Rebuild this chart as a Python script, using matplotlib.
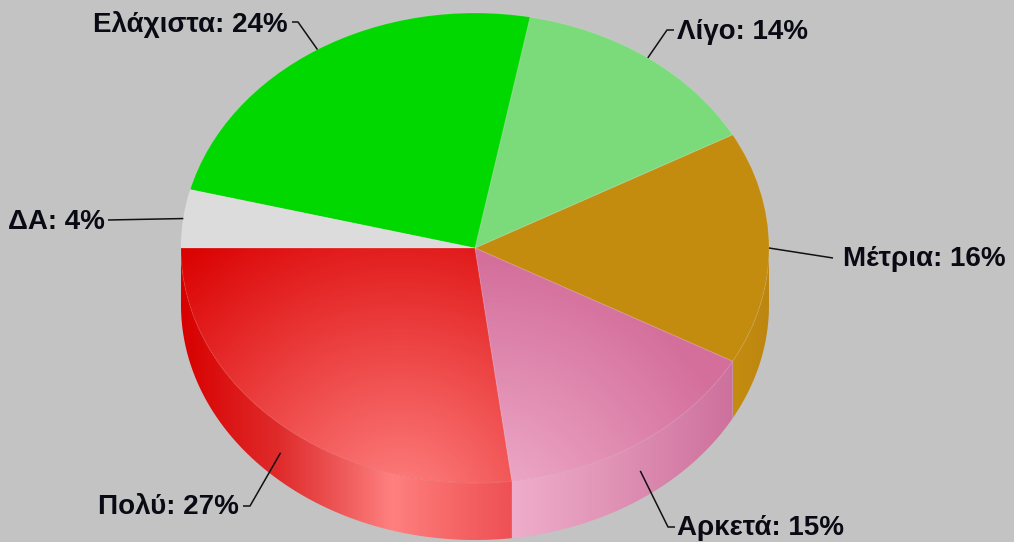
import numpy as np
import matplotlib
matplotlib.use("Agg")
import matplotlib.pyplot as plt
from matplotlib.colors import LinearSegmentedColormap as LSC
from matplotlib.patches import Wedge

categories = ["Πολύ", "Αρκετά", "Μέτρια", "Λίγο", "Ελάχιστα", "ΔΑ"]
values = [27, 15, 16, 14, 24, 4]
colors = ["#e81c1c", "#dd80a8", "#c48c0e", "#7bdb7b", "#00d800", "#dcdcdc"]

W, H = 1014, 542
CX, CY, RX, RY, DEPTH = 475, 248, 294, 235, 57
BG = "#c3c3c3"

def px(x, y):
    return (x - CX) / RX, (CY - y) / RY

fig = plt.figure(figsize=(W / 100, H / 100), dpi=100, facecolor=BG)
ax = fig.add_axes([0, 0, 1, 1])
wedges, _ = ax.pie(values, colors=colors, startangle=180, radius=1, center=(0, 0),
                   wedgeprops=dict(linewidth=0))
ax.set_aspect("auto")
ax.axis("off")
xl = ((0 - CX) / RX, (W - CX) / RX)
yl = ((CY - H) / RY, CY / RY)
d = DEPTH / RY

angles = 180 + np.concatenate([[0], np.cumsum(values)]) * 3.6
mids = (angles[:-1] + angles[1:]) / 2

# ---- side walls with horizontal gradient ----
wall_stops = {
    0: [(181, "#d80000"), (280, "#e02c2c"), (340, "#ee5858"), (392, "#ff8080"), (440, "#f86c6c"), (512, "#ee5055")],
    1: [(512, "#efaecb"), (600, "#e296b8"), (733, "#cd709d")],
    2: [(733, "#c48c10"), (769, "#bd860f")],
}
def make_cmap(stops):
    a, b = stops[0][0], stops[-1][0]
    return LSC.from_list("g", [((s - a) / (b - a), c) for s, c in stops]), a, b

for i, stops in wall_stops.items():
    t = np.radians(np.linspace(angles[i], min(angles[i + 1], 360), 200))
    xs = np.cos(t)
    poly = ax.fill(np.r_[xs, xs[::-1]], np.r_[np.sin(t), np.sin(t)[::-1] - d],
                   facecolor="none", edgecolor="none")[0]
    cm, a, b = make_cmap(stops)
    im = ax.imshow(np.linspace(0, 1, 512)[None, :], cmap=cm, aspect="auto", origin="lower",
                   extent=(px(a, 0)[0], px(b, 0)[0], -1.5, 1.2), zorder=0.5)
    im.set_clip_path(poly)

# ---- radial gradients on the two front top slices ----
gx, gy = np.meshgrid(np.arange(W) + .5, np.arange(H) + .5)
def radial(wedge, fx, fy, rmax, c0, c1, z=2):
    r = np.clip(np.hypot(gx - fx, gy - fy) / rmax, 0, 1)
    cm = LSC.from_list("r", [c0, c1])
    im = ax.imshow(r, cmap=cm, vmin=0, vmax=1, aspect="auto",
                   extent=(xl[0], xl[1], yl[0], yl[1]), origin="upper", zorder=z)
    im.set_clip_path(wedge)

radial(wedges[0], 400, 510, 340, "#ff8484", "#da0000")
radial(wedges[1], 480, 530, 275, "#f2b4d0", "#d46e9b")

# ---- light rim on top slices ----
for w in wedges:
    w.set_zorder(1)
for i, v in enumerate(values):
    ax.add_patch(Wedge((0, 0), 1, angles[i], angles[i + 1], facecolor="none",
                       edgecolor="white", alpha=0.1, linewidth=0.8, zorder=3))

# ---- labels with leader lines ----
elbow = [(250, 506), (668, 527), None, (667, 30), (298, 22), None]
end = [(243, 506), (675, 527), (833, 258), (674, 30), (292, 22), (108, 220)]
text_at = [(239, 507, "right"), (677, 528, "left"), (843, 259, "left"),
           (677, 32, "left"), (288, 25, "right"), (105, 222, "right")]

for i, m in enumerate(mids):
    th = np.radians(m)
    x0, y0 = np.cos(th), np.sin(th)
    if y0 < -0.01:
        y0 -= d / 2
    pts = [(x0, y0)]
    if elbow[i]:
        pts.append(px(*elbow[i]))
    pts.append(px(*end[i]))
    ax.plot(*zip(*pts), color="#111111", lw=1.1, zorder=5, solid_capstyle="butt")
    tx, ty, ha = text_at[i]
    ax.text(*px(tx, ty), f"{categories[i]}: {values[i]}%", ha=ha, va="center",
            family="Liberation Sans", weight="bold", fontsize=20, color="#0a0a14", zorder=6)

ax.set_xlim(*xl)
ax.set_ylim(*yl)
fig.savefig("out.png", dpi=100, facecolor=BG)
